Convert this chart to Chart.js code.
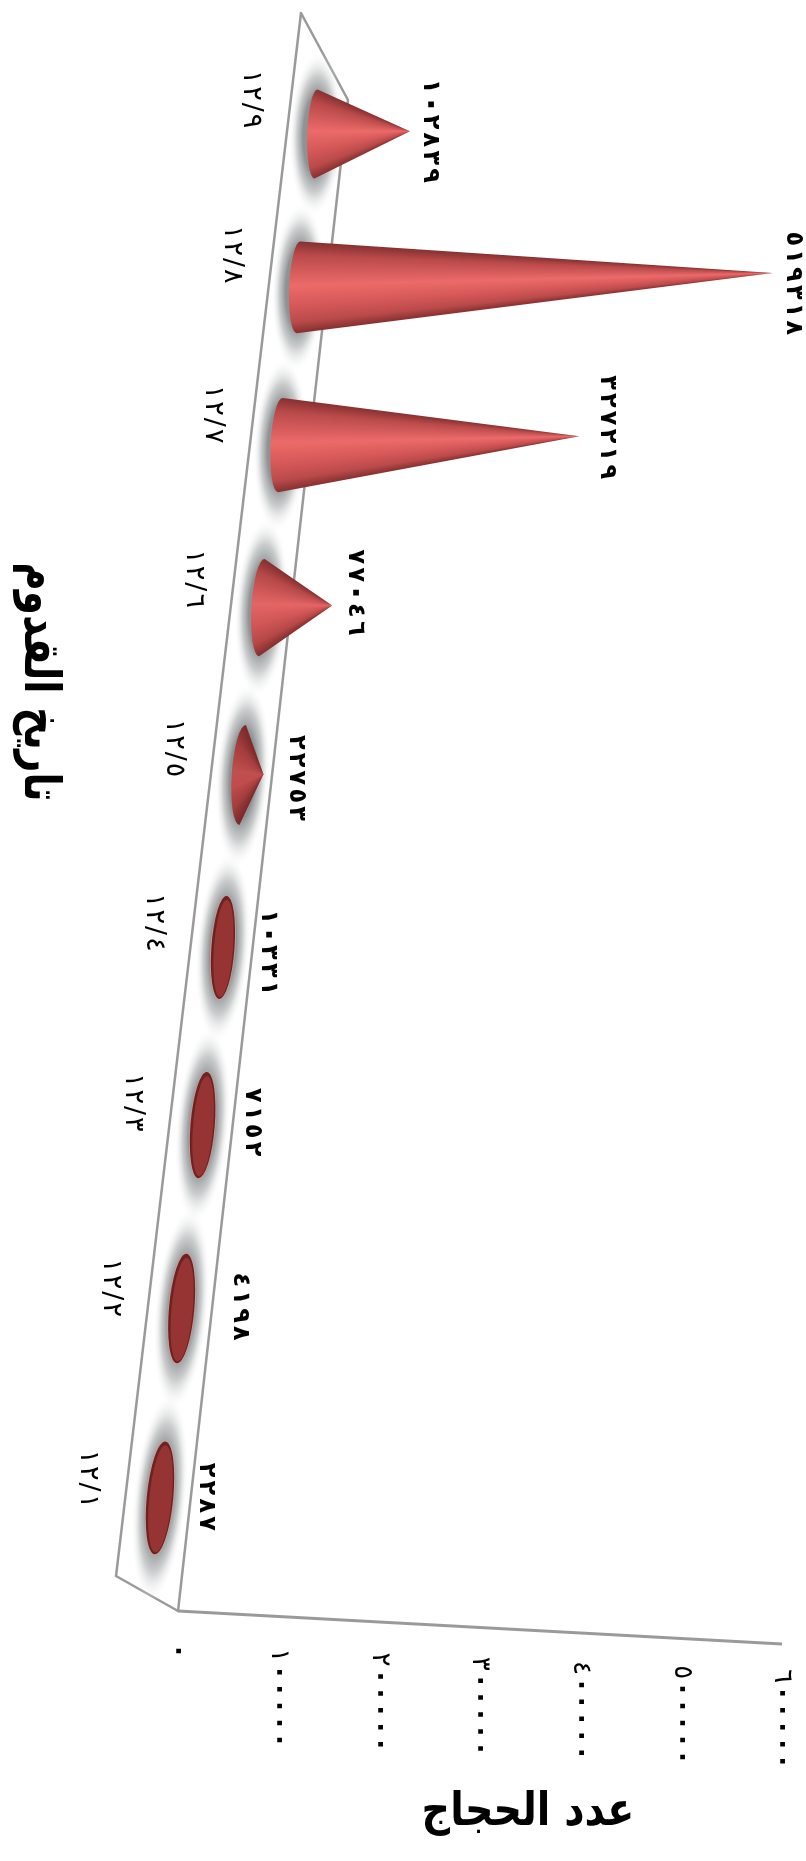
<!DOCTYPE html>
<html lang="ar">
<head>
<meta charset="utf-8">
<title>عدد الحجاج</title>
<style>
  html, body { margin: 0; padding: 0; background: #fff; }
  #wrap { width: 806px; height: 1861px; position: relative; }
  #hajjChart { filter: blur(0.4px); }
</style>
</head>
<body>
<div id="wrap"><canvas id="hajjChart"></canvas></div>
<script src="https://cdn.jsdelivr.net/npm/chart.js@4/dist/chart.umd.min.js"></script>
<script>
// Data
const categories = ['١٢/١', '١٢/٢', '١٢/٣', '١٢/٤', '١٢/٥', '١٢/٦', '١٢/٧', '١٢/٨', '١٢/٩'];
const pilgrims = [2287, 4198, 7152, 10331, 22753, 77046, 327219, 519318, 102839];
const valueTicks = ['٠', '١٠٠٠٠٠', '٢٠٠٠٠٠', '٣٠٠٠٠٠', '٤٠٠٠٠٠', '٥٠٠٠٠٠', '٦٠٠٠٠٠'];
const valueTitle = 'عدد الحجاج';
const dateTitle = 'تاريخ القدوم';

// Nudges for the value labels, measured from each cone tip
const labelDx = [44, 55, 43, 36, 33, 23, 28, 21, 20];
const labelDy = [-1, -2, -3, 5, 3, -15, -18, -4, -3];

const FONT = '"DejaVu Sans", sans-serif';
const toArabic = n => String(n).replace(/\d/g, d => '٠١٢٣٤٥٦٧٨٩'[d]);

// Perspective of the floor the cones stand on
const floor = { rearTop: [301, 13], frontTop: [348, 100], rearBottom: [116, 1576], frontDrop: 18 };
const warpA = 1194, warpB = 134, warpC = -0.1134;
const coneDepth = 0.907;    // cones stand further back than the front axis
const axisDrop = 33 / 604;

// chart-area y pixel -> screen y along the floor's centre line
function warpY(chart, py) {
    const area = chart.chartArea;
    const s = (py - area.top) / (area.bottom - area.top);
    const t = (s * categories.length - 0.5) / (categories.length - 1);
    return (warpA * t + warpB) / (warpC * t + 1);
}
const floorX = y => 316 - (y - 134) * 0.1144;

// Text turned a quarter clockwise. Numbers go char by char so they can be spaced out.
function rotatedText(ctx, text, x, y, font, align, spacing, squeeze) {
    ctx.save();
    ctx.translate(x, y);
    ctx.rotate(Math.PI / 2);
    if (squeeze) ctx.scale(squeeze, 1);
    ctx.font = font;
    ctx.fillStyle = '#000';
    ctx.strokeStyle = '#000';
    ctx.textBaseline = 'middle';
    ctx.direction = 'ltr';
    if (spacing) {
        const chars = Array.from(text);
        const widths = chars.map(c => ctx.measureText(c).width);
        const total = widths.reduce((a, b) => a + b, 0) + spacing * (chars.length - 1);
        let pos = align === 'center' ? -total / 2 : 0;
        ctx.textAlign = 'left';
        chars.forEach((c, i) => {
            ctx.fillText(c, pos, 0);
            // the zero is only a dot in this font, fatten it into a diamond
            if (c === '٠') {
                ctx.lineWidth = 1.6;
                ctx.strokeText(c, pos, 0);
            }
            pos += widths[i] + spacing;
        });
    } else {
        ctx.textAlign = align;
        ctx.fillText(text, 0, 0);
    }
    ctx.restore();
}

function drawFloor(ctx, chart) {
    const xs = chart.scales.x;
    const fx = xs.getPixelForValue(0), fy = chart.chartArea.bottom + floor.frontDrop;
    const endX = xs.getPixelForValue(600000);
    ctx.save();
    ctx.beginPath();
    ctx.moveTo(floor.rearTop[0], floor.rearTop[1]);
    ctx.lineTo(floor.frontTop[0], floor.frontTop[1]);
    ctx.lineTo(fx, fy);
    ctx.lineTo(floor.rearBottom[0], floor.rearBottom[1]);
    ctx.closePath();
    ctx.fillStyle = '#fff';
    ctx.fill();
    ctx.strokeStyle = '#9a9a9a';
    ctx.lineWidth = 2.5;
    ctx.lineJoin = 'round';
    ctx.stroke();
    // value axis
    ctx.beginPath();
    ctx.moveTo(fx, fy);
    ctx.lineTo(endX, fy + (endX - fx) * axisDrop);
    ctx.lineWidth = 3;
    ctx.stroke();
    ctx.restore();
}

function drawShadow(ctx, cx, cy, ry, tilt) {
    ctx.save();
    ctx.translate(cx, cy);
    ctx.rotate(tilt);
    ctx.scale(27, ry * 1.85);
    const g = ctx.createRadialGradient(0, 0, 0, 0, 0, 1);
    g.addColorStop(0, 'rgba(138,143,145,1)');
    g.addColorStop(0.48, 'rgba(142,147,149,1)');
    g.addColorStop(0.7, 'rgba(178,181,182,0.7)');
    g.addColorStop(1, 'rgba(255,255,255,0)');
    ctx.fillStyle = g;
    ctx.beginPath();
    ctx.arc(0, 0, 1, 0, Math.PI * 2);
    ctx.fill();
    ctx.restore();
}

function mix(a, b, t) {
    const c = a.map((v, i) => Math.round(v + (b[i] - v) * t));
    return `rgb(${c[0]},${c[1]},${c[2]})`;
}

function drawCone(ctx, cx, cy, rx, ry, tilt, len) {
    const ax = cx + len, ay = cy - len * 0.03;
    const topX = cx + ry * Math.sin(tilt), topY = cy - ry * Math.cos(tilt);
    const botX = cx - ry * Math.sin(tilt), botY = cy + ry * Math.cos(tilt);
    const tall = len > rx * 1.3;
    const bright = tall ? Math.min(1, Math.sqrt(len / 85)) : 0;
    const mid = mix([150, 52, 52], [236, 106, 106], bright);
    const side = mix([143, 50, 50], [186, 74, 74], bright);
    const edge = mix([112, 32, 32], [134, 48, 48], bright);

    ctx.save();
    if (!tall) {
        // the shortest cones mostly show their base
        ctx.beginPath();
        ctx.ellipse(cx, cy, rx + 1, ry + 1, tilt, 0, Math.PI * 2);
        ctx.fillStyle = 'rgba(226,160,150,0.6)';
        ctx.fill();
        ctx.beginPath();
        ctx.ellipse(cx, cy, rx, ry, tilt, 0, Math.PI * 2);
        ctx.fillStyle = '#6e2222';
        ctx.fill();
        ctx.beginPath();
        ctx.ellipse(cx + 0.5, cy + 1, rx - 2, ry - 3, tilt, 0, Math.PI * 2);
        ctx.fillStyle = mid;
        ctx.fill();
        ctx.restore();
        return;
    }

    // body: shaded fan around the tip
    ctx.beginPath();
    ctx.moveTo(topX, topY);
    ctx.lineTo(ax, ay);
    ctx.lineTo(botX, botY);
    ctx.ellipse(cx, cy, rx, ry, tilt, Math.PI / 2, Math.PI * 1.5);
    ctx.closePath();
    const upper = Math.atan2(topY - ay, topX - ax);
    const lower = Math.atan2(botY - ay, botX - ax);
    const a0 = lower, a1 = upper < 0 ? upper + Math.PI * 2 : upper;
    const span = (a1 - a0) / (Math.PI * 2);
    const g = ctx.createConicGradient(a0, ax, ay);
    g.addColorStop(0, edge);
    g.addColorStop(span * 0.12, side);
    g.addColorStop(span * 0.3, mix([170, 64, 64], [214, 88, 88], bright));
    g.addColorStop(span * 0.52, mid);
    g.addColorStop(span * 0.85, side);
    g.addColorStop(span, edge);
    g.addColorStop(1, edge);
    ctx.fillStyle = g;
    ctx.fill();
    ctx.restore();
}

const conePlugin = {
    id: 'cones',
    afterDatasetsDraw(chart) {
        const ctx = chart.ctx;
        const xs = chart.scales.x, ys = chart.scales.y;
        const area = chart.chartArea;
        const bars = chart.getDatasetMeta(0).data;
        const halfBand = 0.5 * Math.abs(ys.getPixelForValue(1) - ys.getPixelForValue(0));
        drawFloor(ctx, chart);

        const parts = bars.map(bar => {
            const cy = warpY(chart, bar.y);
            const spacing = warpY(chart, bar.y + halfBand) - warpY(chart, bar.y - halfBand);
            const s = (bar.y - area.top) / (area.bottom - area.top);
            return {
                cx: floorX(cy), cy, s,
                ry: spacing * 0.295,
                rx: 8.5 + 5 * s,
                tilt: 0.03 + 0.07 * s,
                len: (bar.x - bar.base) * coneDepth
            };
        });

        parts.forEach(p => drawShadow(ctx, p.cx, p.cy, p.ry, p.tilt));
        parts.forEach(p => drawCone(ctx, p.cx, p.cy, p.rx, p.ry, p.tilt, p.len));

        // value labels
        parts.forEach((p, i) => {
            rotatedText(ctx, toArabic(pilgrims[i]), p.cx + p.len + labelDx[i], p.cy + labelDy[i],
                'bold 24px ' + FONT, 'center', 3.2);
        });

        // date labels, from the category scale
        ys.ticks.forEach((tick, i) => {
            const p = parts[i];
            rotatedText(ctx, tick.label, p.cx - 65 - 7 * p.s, p.cy - 36 + 18 * p.s, '27px ' + FONT, 'center', 2);
        });

        // value ticks, from the value scale
        xs.ticks.forEach(tick => {
            const x = xs.getPixelForValue(tick.value);
            const y = 1644 + (x - xs.left) * 0.042;
            rotatedText(ctx, tick.label, x, y, '26px ' + FONT, 'left', 3);
        });

        // axis titles
        ctx.save();
        ctx.translate(528, 1813);
        ctx.scale(0.86, 1);
        ctx.font = 'bold 46px ' + FONT;
        ctx.fillStyle = '#000';
        ctx.textAlign = 'center';
        ctx.textBaseline = 'middle';
        ctx.fillText(valueTitle, 0, 0);
        ctx.restore();
        rotatedText(ctx, dateTitle, 38, 682, 'bold 50px ' + FONT, 'center', 0, 0.78);
    }
};

new Chart(document.getElementById('hajjChart'), {
    type: 'bar',
    data: {
        labels: categories,
        datasets: [{
            label: valueTitle,
            data: pilgrims,
            backgroundColor: 'transparent',
            borderWidth: 0
        }]
    },
    options: {
        indexAxis: 'y',
        responsive: true,
        maintainAspectRatio: false,
        animation: false,
        layout: { padding: { left: 178, right: 24, top: 56, bottom: 268 } },
        scales: {
            x: {
                display: false,
                min: 0,
                max: 600000,
                ticks: { stepSize: 100000, callback: (v, i) => valueTicks[i] }
            },
            y: {
                display: false,
                reverse: true
            }
        },
        plugins: {
            legend: { display: false },
            tooltip: { enabled: false }
        }
    },
    plugins: [conePlugin]
});
</script>
</body>
</html>
